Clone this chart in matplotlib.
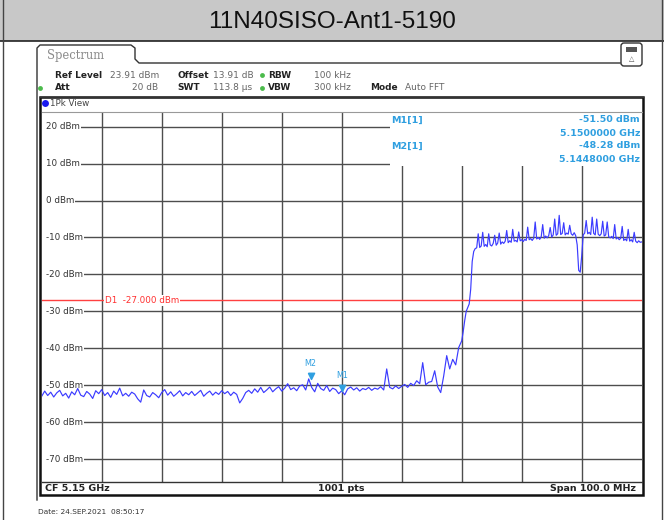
"""Spectrum analyser screenshot: 11N40SISO-Ant1-5190 band-edge plot."""
import matplotlib

matplotlib.use("Agg")
import matplotlib.pyplot as plt
import numpy as np
from matplotlib.patches import FancyBboxPatch, Rectangle

TITLE = "11N40SISO-Ant1-5190"
CENTER_GHZ = 5.15
SPAN_GHZ = 0.10
REF_LEVEL = 23.91
RANGE_DB = 100.0
LEVEL_TICKS = [20, 10, 0, -10, -20, -30, -40, -50, -60, -70]
DISPLAY_LINE = -27.0

# trace: noise floor at 0.5 MHz steps, band edge at 0.25 MHz
FLOOR_START, FLOOR_STEP = 5.100, 0.0005
FLOOR_DBM = [
    -53.0, -51.6, -52.8, -51.9, -53.2, -52.1, -51.4, -52.9, -52.2, -53.5,
    -51.8, -52.6, -50.9, -52.7, -53.1, -51.7, -52.4, -53.6, -51.5, -52.3,
    -51.2, -52.8, -52.0, -53.3, -51.6, -52.5, -50.8, -52.9, -52.2, -53.0,
    -51.9, -52.4, -53.7, -54.6, -51.3, -52.8, -53.2, -52.0, -52.6, -53.4,
    -52.0, -51.2, -52.7, -51.8, -53.0, -52.3, -51.5, -52.9, -52.0, -52.6,
    -51.7, -52.8, -52.1, -51.4, -53.0, -52.2, -51.6, -52.7, -51.9, -52.5,
    -51.5, -52.3, -51.7, -52.8, -51.9, -52.5, -54.8, -53.6, -52.0, -51.4,
    -52.2, -51.0, -51.9, -50.6, -52.0, -51.3, -50.5, -51.8, -51.0, -50.4,
    -51.6, -50.8, -49.6, -51.2, -50.7, -51.5, -50.2, -49.9, -51.3, -48.3,
    -50.6, -51.8, -49.5, -50.9, -51.4, -50.1, -51.7, -50.8, -51.2, -52.3,
    -51.5, -52.6, -51.0, -50.5, -51.3, -50.7, -51.6, -50.9, -51.2, -50.6,
    -51.4, -50.8, -51.1, -50.4, -51.3, -45.6, -50.6, -51.0, -50.2, -50.9,
    -50.3, -49.8, -50.6, -49.5, -50.1, -48.8, -49.6, -43.9, -49.9, -49.2,
    -49.0, -46.1, -50.5, -52.0, -47.5, -42.0, -45.6, -43.0, -44.5, -39.8,
]
BAND_START, BAND_STEP = 5.170, 0.00025
BAND_DBM = [
    -38.0, -35.5, -32.5, -30.0, -29.0, -28.0, -24.0, -16.5, -13.8, -13.0,
    -12.8, -9.0, -12.7, -12.3, -8.6, -12.4, -11.9, -12.5, -9.0, -12.0,
    -12.3, -11.6, -9.4, -12.1, -11.5, -8.8, -11.8, -11.2, -11.6, -11.0,
    -8.1, -11.4, -10.9, -11.3, -7.8, -11.0, -10.8, -11.2, -8.5, -10.9,
    -10.6, -11.1, -10.5, -10.8, -7.2, -10.6, -10.3, -10.8, -10.2, -5.8,
    -10.4, -10.0, -10.5, -9.8, -6.5, -10.2, -9.6, -10.1, -9.5, -7.3,
    -9.9, -9.3, -5.0, -9.4, -9.0, -4.0, -9.2, -8.9, -6.0, -9.3,
    -8.8, -9.1, -6.7, -9.0, -9.4, -8.7, -9.5, -12.0, -18.9, -19.4,
    -15.0, -9.3, -8.8, -5.4, -9.0, -8.6, -9.2, -4.5, -8.9, -9.3,
    -5.0, -9.1, -9.5, -9.0, -5.6, -9.6, -9.3, -5.8, -9.8, -10.1,
    -9.7, -10.3, -6.5, -10.4, -10.0, -10.6, -10.2, -7.0, -10.8, -10.4,
    -10.9, -7.8, -11.0, -10.6, -11.2, -8.6, -11.0, -11.4, -10.9, -11.3,
    -11.2,
]

MARKER_NAMES = ["M1", "M2"]
MARKER_GHZ = [5.1500, 5.1448]
MARKER_DBM = [-51.50, -48.28]

W, H = 664, 520
TRACE = "#3b3bff"
MKR = "#2f9fe0"
GRID = "#4d4d4d"

freq = np.concatenate([
    FLOOR_START + FLOOR_STEP * np.arange(len(FLOOR_DBM)),
    BAND_START + BAND_STEP * np.arange(len(BAND_DBM)),
])
level = np.array(FLOOR_DBM + BAND_DBM)

fig = plt.figure(figsize=(W / 100, H / 100), dpi=100)
fig.patch.set_facecolor("white")

# overlay in pixel coordinates for the screen chrome
ov = fig.add_axes([0, 0, 1, 1])
ov.set_xlim(0, W)
ov.set_ylim(H, 0)
ov.axis("off")
ov.patch.set_alpha(0)
ov.set_zorder(5)

# data area
x0, x1, y0, y1 = 41.7, 641.7, 112.3, 481.5
ax = fig.add_axes([x0 / W, 1 - y1 / H, (x1 - x0) / W, (y1 - y0) / H])
ax.set_xlim(CENTER_GHZ - SPAN_GHZ / 2, CENTER_GHZ + SPAN_GHZ / 2)
ax.set_ylim(REF_LEVEL - RANGE_DB, REF_LEVEL)
ax.set_xticks([])
ax.set_yticks([])
for s in ax.spines.values():
    s.set_visible(False)

for f in np.linspace(ax.get_xlim()[0], ax.get_xlim()[1], 11)[1:-1]:
    ax.axvline(f, color=GRID, lw=1.0, zorder=1)
for lv in LEVEL_TICKS:
    ax.axhline(lv, color=GRID, lw=1.0, zorder=1)
    ax.text(0.0065, lv, f"{lv} dBm", transform=ax.get_yaxis_transform(),
            ha="left", va="center", fontsize=6.3, color="#333333", zorder=2,
            bbox=dict(boxstyle="square,pad=0.12", fc="white", ec="none"))
# blank strip left of the level labels
ax.add_patch(Rectangle((0, 0), 0.0075, 1, transform=ax.transAxes,
                       fc="white", ec="none", zorder=1.5))

# marker info block hides the grid in the top right corner
ax.add_patch(Rectangle((5.15805, 9.4), 0.05, 20, transform=ax.transData,
                       fc="white", ec="none", zorder=2))

ax.axhline(DISPLAY_LINE, color="#ff4040", lw=1.0, zorder=2)
ax.text(5.1105, DISPLAY_LINE, f"D1  {DISPLAY_LINE:.3f} dBm", ha="left", va="center",
        fontsize=6.3, color="#ff3030", zorder=3,
        bbox=dict(boxstyle="square,pad=0.1", fc="white", ec="none"))

ax.plot(freq, level, color=TRACE, lw=0.85, zorder=4)

tri = [(-1, 2), (1, 2), (0, 0), (-1, 2)]
ax.plot(MARKER_GHZ, MARKER_DBM, linestyle="none", marker=tri, ms=9,
        color=MKR, zorder=5)
for name, f, lv in zip(MARKER_NAMES, MARKER_GHZ, MARKER_DBM):
    ax.annotate(name, (f, lv), xytext=(0, 11), textcoords="offset pixels",
                ha="center", va="bottom", fontsize=5.8, color=MKR, zorder=5)

# marker readout
for k, (name, f, lv) in enumerate(zip(MARKER_NAMES, MARKER_GHZ, MARKER_DBM)):
    yy = 120 + 26 * k
    ov.text(391, yy, f"{name}[1]", ha="left", va="center", fontsize=6.8,
            fontweight="bold", color=MKR)
    ov.text(640, yy, f"{lv:.2f} dBm", ha="right", va="center", fontsize=6.8,
            fontweight="bold", color=MKR)
    ov.text(640, yy + 13, f"{f:.7f} GHz", ha="right", va="center", fontsize=6.8,
            fontweight="bold", color=MKR)

# title band
ov.add_patch(Rectangle((0, 0), W, 40.5, fc="#c8c8c8", ec="none", zorder=0))
ov.plot([0, W], [40.5, 40.5], color="#222222", lw=1.2)
ov.plot([2.5, 2.5], [0, H], color="#444444", lw=1.0)
ov.plot([661.5, 661.5], [0, H], color="#444444", lw=1.0)
ov.text(W / 2, 22, TITLE, ha="center", va="center", fontsize=17.5,
        family="Liberation Sans", color="#111111")

# tab + panel outline
ov.plot([37, 37, 40, 131, 135, 135, 139, 620], [500, 48, 45, 45, 48, 59, 63, 63],
        color="#333333", lw=1.0)
ov.add_patch(FancyBboxPatch((621, 43), 21, 23, boxstyle="round,pad=0,rounding_size=3",
                            fc="white", ec="#333333", lw=1.0))
ov.add_patch(Rectangle((626, 47), 11, 5, fc="#555555", ec="none"))
ov.text(631.5, 59, "\u25b3", ha="center", va="center", fontsize=5, color="#555555")
ov.text(47, 56, "Spectrum", ha="left", va="center", fontsize=8.3, color="#8a8a8a",
        family="DejaVu Serif")

dark, grey = "#222222", "#666666"
row1 = [("Ref Level", 55, True), ("23.91 dBm", 110, False), ("Offset", 177, True),
        ("13.91 dB", 213, False), ("RBW", 268, True), ("100 kHz", 314, False)]
row2 = [("Att", 55, True), ("SWT", 177, True), ("113.8 \u00b5s", 213, False),
        ("VBW", 268, True), ("300 kHz", 314, False), ("Mode", 370, True),
        ("Auto FFT", 405, False)]
for yy, row in ((75, row1), (88, row2)):
    for txt, xx, bold in row:
        ov.text(xx, yy, txt, ha="left", va="center", fontsize=6.5,
                fontweight="bold" if bold else "normal", color=dark if bold else grey)
ov.text(158, 88, "20 dB", ha="right", va="center", fontsize=6.5, color=grey)
for xx, yy in ((262, 75), (40, 88), (262, 88)):
    ov.plot(xx, yy, marker="o", ms=3.5, color="#4cbb4c", mec="none")

# 1Pk View header and plot frame
ov.plot([39.5, 643], [97, 97], color="#333333", lw=1.0)
ov.plot(45, 103, marker="o", ms=5, color="#1a1af0", mec="none")
ov.text(50, 103, "1Pk View", ha="left", va="center", fontsize=6.3, color="#444444")
ov.plot([x0, x1], [y0, y0], color="#999999", lw=0.8)
ov.plot([x0, x1], [y1, y1], color="#333333", lw=1.0)
ov.add_patch(Rectangle((39.5, 97), 603.5, 398, fc="none", ec="#111111", lw=1.8))

ov.text(45, 488.5, f"CF {CENTER_GHZ:.2f} GHz", ha="left", va="center", fontsize=6.8,
        fontweight="bold", color=dark)
ov.text(341, 488.5, "1001 pts", ha="center", va="center", fontsize=6.8,
        fontweight="bold", color=dark)
ov.text(636, 488.5, f"Span {SPAN_GHZ * 1000:.1f} MHz", ha="right", va="center",
        fontsize=6.8, fontweight="bold", color=dark)
ov.text(38, 512, "Date: 24.SEP.2021  08:50:17", ha="left", va="center", fontsize=5.3,
        color="#333333")

fig.savefig("out.png", dpi=100)
